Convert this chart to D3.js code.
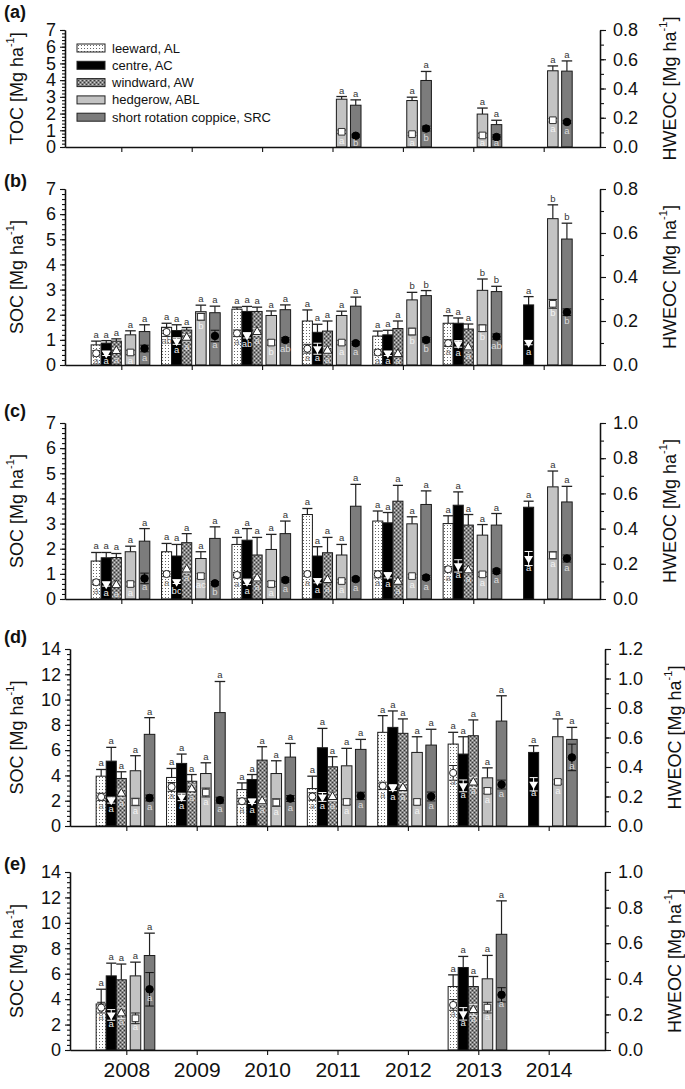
<!DOCTYPE html>
<html><head><meta charset="utf-8">
<script src="https://cdn.jsdelivr.net/npm/d3@7"></script>
<style>body{margin:0;background:#fff}svg{display:block}text{font-family:"Liberation Sans",Arial,sans-serif}</style>
</head><body><svg id="c" width="685" height="1089"></svg>
<script>
// ---------------- DATA ----------------
const years = [2008, 2009, 2010, 2011, 2012, 2013, 2014];
const seriesNames = ["leeward, AL", "centre, AC", "windward, AW", "hedgerow, ABL", "short rotation coppice, SRC"];
const panelLabels = ["(a)", "(b)", "(c)", "(d)", "(e)"];
const leftTitles = ["TOC", "SOC", "SOC", "SOC", "SOC"];
const rightTitle = "HWEOC";
const leftMax = [7, 7, 7, 14, 14];
const leftStep = [1, 1, 1, 2, 2];
const rightMax = [0.8, 0.8, 1.0, 1.2, 1.0];
const N = null;

// rows: AL, AC, AW, ABL, SRC ; columns: 2008..2014
const a_val = [[N,N,N,N,N,N,N],[N,N,N,N,N,N,N],[N,N,N,N,N,N,N],[N,N,N,2.86,2.78,1.97,4.56],[N,N,N,2.50,3.98,1.34,4.54]];
const a_se  = [[N,N,N,N,N,N,N],[N,N,N,N,N,N,N],[N,N,N,N,N,N,N],[N,N,N,0.16,0.20,0.36,0.29],[N,N,N,0.32,0.54,0.26,0.61]];
const a_hw  = [[N,N,N,N,N,N,N],[N,N,N,N,N,N,N],[N,N,N,N,N,N,N],[N,N,N,0.104,0.088,0.079,0.183],[N,N,N,0.077,0.126,0.068,0.171]];
const a_hwSe= [[N,N,N,N,N,N,N],[N,N,N,N,N,N,N],[N,N,N,N,N,N,N],[N,N,N,0.012,0.010,0.015,0.012],[N,N,N,0.010,0.017,0.015,0.010]];
const a_top = [[],[],[],[N,N,N,"a","a","a","a"],[N,N,N,"a","a","a","a"]];
const a_bot = [[],[],[],[N,N,N,"a","a","a","a"],[N,N,N,"b","b","a","a"]];

const b_val = [[0.80,1.50,2.22,1.75,1.15,1.66,N],[0.87,1.37,2.13,1.30,1.20,1.66,2.39],[0.95,1.39,2.13,1.35,1.45,1.43,N],[1.20,2.12,1.97,1.97,2.59,2.97,5.82],[1.33,2.08,2.20,2.34,2.76,2.92,5.01]];
const b_se  = [[0.15,0.16,0.08,0.44,0.20,0.30,N],[0.10,0.23,0.20,0.32,0.18,0.21,0.33],[0.09,0.10,0.17,0.40,0.30,0.20,N],[0.16,0.26,0.18,0.17,0.30,0.45,0.55],[0.27,0.26,0.19,0.36,0.20,0.21,0.63]];
const b_hw  = [[0.053,0.150,0.144,0.074,0.057,0.099,N],[0.053,0.109,0.135,0.074,0.053,0.096,0.102],[0.064,0.124,0.150,0.065,0.050,0.080,N],[0.057,0.219,0.102,0.102,0.152,0.167,0.278],[0.075,0.132,0.114,0.099,0.114,0.129,0.240]];
const b_hwSe= [[0.012,0.020,0.015,0.020,0.012,0.015,N],[0.010,0.015,0.012,0.025,0.010,0.015,0.010],[0.012,0.015,0.015,0.015,0.010,0.015,N],[0.010,0.015,0.012,0.010,0.015,0.015,0.020],[0.015,0.026,0.010,0.008,0.010,0.012,0.015]];
const b_top = [["a","a","a","a","a","a",N],["a","a","a","a","a","a","a"],["a","a","a","a","a","a",N],["a","a","a","a","b","b","b"],["a","a","a","a","b","b","b"]];
const b_bot = [["a","ab","a","a","a","a",N],["a","a","ab","a","a","a","a"],["a","a","a","a","a","a",N],["a","b","b","a","b","b","b"],["a","a","ab","a","b","ab","b"]];

const c_val = [[1.51,1.88,2.17,3.36,3.10,3.00,N],[1.64,1.71,2.34,1.71,3.03,3.73,3.65],[1.65,2.24,1.75,1.84,3.89,2.94,N],[1.88,1.61,1.97,1.75,2.99,2.54,4.46],[2.30,2.41,2.60,3.69,3.76,2.94,3.86]];
const c_se  = [[0.34,0.33,0.28,0.24,0.40,0.31,N],[0.21,0.46,0.46,0.37,0.41,0.53,0.24],[0.16,0.36,0.70,0.61,0.63,0.42,N],[0.22,0.27,0.60,0.42,0.28,0.42,0.63],[0.50,0.46,0.50,0.87,0.54,0.46,0.62]];
const c_hw  = [[0.095,0.142,0.136,0.142,0.140,0.169,N],[0.085,0.098,0.098,0.104,0.135,0.188,0.230],[0.079,0.168,0.117,0.108,0.098,0.163,N],[0.085,0.130,0.085,0.102,0.130,0.140,0.248],[0.117,0.089,0.108,0.113,0.122,0.158,0.230]];
const c_hwSe= [[0.012,0.015,0.015,0.012,0.020,0.015,N],[0.012,0.010,0.015,0.012,0.015,0.035,0.040],[0.012,0.020,0.015,0.012,0.012,0.015,N],[0.012,0.015,0.015,0.010,0.010,0.012,0.020],[0.030,0.010,0.012,0.010,0.012,0.012,0.020]];
const c_top = [["a","a","a","a","a","a",N],["a","a","a","a","a","a","a"],["a","a","a","a","a","a",N],["a","a","a","a","a","a","a"],["a","a","a","a","a","a","a"]];
const c_bot = [["a","a","a","a","a","a",N],["a","bc","a","a","a","a","a"],["a","a","a","a","a","a",N],["a","ac","a","a","a","a","a"],["a","b","a","a","a","a","a"]];

const d_val = [[3.94,3.84,2.88,2.96,7.41,6.48,N],[5.13,4.95,3.68,6.19,7.80,5.69,5.82],[3.76,3.54,5.21,4.68,7.33,7.14,N],[4.37,4.15,4.15,4.76,5.82,3.81,7.06],[7.25,8.97,5.45,6.06,6.40,8.30,6.85]];
const d_se  = [[0.53,0.71,0.53,0.98,1.32,0.93,N],[1.09,0.74,0.39,1.53,1.30,1.37,0.53],[0.53,0.53,1.06,0.80,1.14,1.25,N],[1.19,0.85,1.01,1.38,1.24,0.79,1.41],[1.32,2.46,1.08,0.79,1.25,2.00,0.95]];
const d_hw  = [[0.197,0.265,0.168,0.200,0.272,0.360,N],[0.175,0.197,0.168,0.197,0.260,0.272,0.283],[0.220,0.249,0.168,0.197,0.258,0.295,N],[0.163,0.227,0.159,0.163,0.163,0.238,0.299],[0.190,0.175,0.186,0.204,0.200,0.281,0.465]];
const d_hwSe= [[0.025,0.030,0.020,0.025,0.025,0.050,N],[0.020,0.025,0.015,0.030,0.020,0.040,0.045],[0.030,0.030,0.020,0.025,0.030,0.035,N],[0.025,0.030,0.025,0.020,0.020,0.020,0.015],[0.020,0.020,0.020,0.025,0.030,0.030,0.090]];
const d_top = [["a","a","a","a","a","a",N],["a","a","a","a","a","a","a"],["a","a","a","a","a","a",N],["a","a","a","a","a","a","a"],["a","a","a","a","a","a","a"]];
const d_bot = d_top;

const e_val = [[3.62,N,N,N,N,4.99,N],[5.83,N,N,N,N,6.49,N],[5.52,N,N,N,N,4.99,N],[5.83,N,N,N,N,5.60,N],[7.43,N,N,N,N,9.10,N]];
const e_se  = [[1.16,N,N,N,N,0.92,N],[1.00,N,N,N,N,0.87,N],[1.24,N,N,N,N,0.79,N],[1.08,N,N,N,N,1.84,N],[1.76,N,N,N,N,2.63,N]];
const e_hw  = [[0.238,N,N,N,N,0.253,N],[0.197,N,N,N,N,0.203,N],[0.206,N,N,N,N,0.225,N],[0.178,N,N,N,N,0.238,N],[0.341,N,N,N,N,0.310,N]];
const e_hwSe= [[0.030,N,N,N,N,0.030,N],[0.030,N,N,N,N,0.035,N],[0.030,N,N,N,N,0.030,N],[0.030,N,N,N,N,0.030,N],[0.094,N,N,N,N,0.040,N]];
const e_top = [["a",N,N,N,N,"a",N],["a",N,N,N,N,"a",N],["a",N,N,N,N,"a",N],["a",N,N,N,N,"a",N],["a",N,N,N,N,"a",N]];
const e_bot = e_top;

// ---------------- LAYOUT ----------------
const panels = [
  {top:30,  bottom:147, left:65, right:600, val:a_val, se:a_se, hw:a_hw, hwSe:a_hwSe, tl:a_top, bl:a_bot},
  {top:189, bottom:365, left:65, right:600, val:b_val, se:b_se, hw:b_hw, hwSe:b_hwSe, tl:b_top, bl:b_bot},
  {top:423, bottom:599, left:65, right:600, val:c_val, se:c_se, hw:c_hw, hwSe:c_hwSe, tl:c_top, bl:c_bot},
  {top:649, bottom:826, left:70, right:605, val:d_val, se:d_se, hw:d_hw, hwSe:d_hwSe, tl:d_top, bl:d_bot},
  {top:872, bottom:1050,left:70, right:605, val:e_val, se:e_se, hw:e_hw, hwSe:e_hwSe, tl:e_top, bl:e_bot}
];
const labelY = [18, 187, 417, 643, 870];
const offs = [-0.357, -0.214, -0.071, 0.13, 0.33];
const wids = [0.143, 0.143, 0.143, 0.15, 0.15];
const fills = ["url(#pAL)", "#000", "url(#pAW)", "#c3c3c3", "#7c7c7c"];
const capCol = ["#222", "#fff", "#eee", "#222", "#111"];
const botCol = ["#777", "#eee", "#ddd", "#f4f4f4", "#ddd"];

const svg = d3.select("#c");
const defs = svg.append("defs");
const pAL = defs.append("pattern").attr("id","pAL").attr("width",3).attr("height",3).attr("patternUnits","userSpaceOnUse");
pAL.append("rect").attr("width",3).attr("height",3).attr("fill","#fff");
pAL.append("rect").attr("width",1).attr("height",1).attr("fill","#666");
const pAW = defs.append("pattern").attr("id","pAW").attr("width",4).attr("height",4).attr("patternUnits","userSpaceOnUse");
pAW.append("rect").attr("width",4).attr("height",4).attr("fill","#858585");
[[0,0,"#d2d2d2"],[2,2,"#d2d2d2"],[2,0,"#383838"],[0,2,"#383838"]].forEach(p=>pAW.append("rect").attr("x",p[0]).attr("y",p[1]).attr("width",1).attr("height",1).attr("fill",p[2]));

const symTypes = [d3.symbolCircle, d3.symbolTriangle, d3.symbolTriangle, d3.symbolSquare, d3.symbolCircle];
const symSize = [40, 34, 34, 44, 44];
const symFill = ["#fff", "#fff", "#fff", "#fff", "#000"];
const symStroke = ["#222", "none", "#222", "#333", "#000"];
const symRot = [0, 180, 0, 0, 0];

panels.forEach((p, pi) => {
  const x = d3.scaleLinear().domain([2007.2, 2014.8]).range([p.left, p.right]);
  const y = d3.scaleLinear().domain([0, leftMax[pi]]).range([p.bottom, p.top]);
  const yR = d3.scaleLinear().domain([0, rightMax[pi]]).range([p.bottom, p.top]);
  const g = svg.append("g");

  // bars + errors
  for (let s = 0; s < 5; s++) {
    years.forEach((yr, i) => {
      const v = p.val[s][i];
      if (v == null) return;
      const cx = x(yr + offs[s]);
      const bw = x(2008 + wids[s]) - x(2008);
      const se = p.se[s][i];
      // error bar above
      const yTop = y(v + se);
      g.append("line").attr("x1",cx).attr("x2",cx).attr("y1",y(v)).attr("y2",yTop).attr("stroke","#222").attr("stroke-width",1.2);
      g.append("line").attr("x1",cx-bw/2).attr("x2",cx+bw/2).attr("y1",yTop).attr("y2",yTop).attr("stroke","#222").attr("stroke-width",1.3);
      g.append("rect").attr("x",cx-bw/2).attr("y",y(v)).attr("width",bw).attr("height",p.bottom-y(v))
        .attr("fill",fills[s]).attr("stroke","#1a1a1a").attr("stroke-width",1);
      const tl = p.tl[s] && p.tl[s][i];
      if (tl) g.append("text").attr("x",cx).attr("y",yTop-3).attr("text-anchor","middle").attr("font-size",9.5).attr("fill","#333").text(tl);
      // HWEOC
      const h = p.hw[s][i];
      if (h != null) {
        const he = p.hwSe[s][i];
        const y1 = yR(h - he), y2 = yR(h + he), hy = yR(h);
        g.append("line").attr("x1",cx).attr("x2",cx).attr("y1",y1).attr("y2",y2).attr("stroke",capCol[s]).attr("stroke-width",1);
        [y1,y2].forEach(yy => g.append("line").attr("x1",cx-bw/2+1).attr("x2",cx+bw/2-1).attr("y1",yy).attr("y2",yy).attr("stroke",capCol[s]).attr("stroke-width",1));
        g.append("path").attr("d", d3.symbol().type(symTypes[s]).size(symSize[s])())
          .attr("transform",`translate(${cx},${hy}) rotate(${symRot[s]})`)
          .attr("fill",symFill[s]).attr("stroke",symStroke[s]).attr("stroke-width",1);
        const bl = p.bl[s] && p.bl[s][i];
        if (bl) g.append("text").attr("x",cx).attr("y",Math.min(hy+12, p.bottom-1.5)).attr("text-anchor","middle")
          .attr("font-size",9.5).attr("fill",botCol[s]).text(bl);
      }
    });
  }

  // axes
  const lmaj = d3.range(0, leftMax[pi] + 1e-9, leftStep[pi]);
  const lmin = d3.range(0, leftMax[pi] + 1e-9, leftStep[pi] / 5);
  const rmaj = d3.range(0, rightMax[pi] + 1e-9, 0.2);
  const rmin = d3.range(0, rightMax[pi] + 1e-9, 0.1);
  const axL = g.append("g").attr("transform",`translate(${p.left},0)`)
    .call(d3.axisLeft(y).tickValues(lmaj).tickSize(5).tickSizeOuter(0).tickPadding(4).tickFormat(d3.format("d")));
  g.append("g").attr("transform",`translate(${p.left},0)`)
    .call(d3.axisLeft(y).tickValues(lmin).tickSize(3).tickSizeOuter(0).tickFormat(""));
  const axR = g.append("g").attr("transform",`translate(${p.right},0)`)
    .call(d3.axisRight(yR).tickValues(rmaj).tickSize(6).tickSizeOuter(0).tickPadding(7).tickFormat(d3.format(".1f")));
  g.append("g").attr("transform",`translate(${p.right},0)`)
    .call(d3.axisRight(yR).tickValues(rmin).tickSize(4).tickSizeOuter(0).tickFormat(""));
  const axX = g.append("g").attr("transform",`translate(0,${p.bottom})`)
    .call(d3.axisBottom(x).tickValues(years).tickSize(5).tickSizeOuter(0).tickPadding(7)
      .tickFormat(pi === 4 ? d3.format("d") : () => ""));
  g.selectAll(".domain").attr("stroke","#111").attr("stroke-width",1.3);
  g.selectAll(".tick line").attr("stroke","#111").attr("stroke-width",1.1);
  axL.selectAll("text").attr("font-size",18).attr("fill","#111").attr("font-family","Liberation Sans, Arial, sans-serif");
  axR.selectAll("text").attr("font-size",18).attr("fill","#111").attr("font-family","Liberation Sans, Arial, sans-serif");
  axX.selectAll("text").attr("font-size",21).attr("fill","#111").attr("font-family","Liberation Sans, Arial, sans-serif");

  // titles
  const cy = (p.top + p.bottom) / 2;
  const tL = g.append("text").attr("transform",`translate(17,${cy}) rotate(-90)`).attr("text-anchor","middle")
    .attr("dominant-baseline","central").attr("font-size",18).attr("fill","#111");
  tL.append("tspan").text(leftTitles[pi] + " [Mg ha");
  tL.append("tspan").attr("font-size",11).attr("dy",-7).text("-1");
  tL.append("tspan").attr("dy",7).text("]");
  const tR = g.append("text").attr("transform",`translate(${p.right + 70},${cy}) rotate(-90)`).attr("text-anchor","middle")
    .attr("dominant-baseline","central").attr("font-size",18).attr("fill","#111");
  tR.append("tspan").text(rightTitle + " [Mg ha");
  tR.append("tspan").attr("font-size",11).attr("dy",-7).text("-1");
  tR.append("tspan").attr("dy",7).text("]");

  g.append("text").attr("x",4).attr("y",labelY[pi]).attr("font-size",18).attr("font-weight","bold").attr("fill","#111").text(panelLabels[pi]);
});

// legend
const lg = svg.append("g");
seriesNames.forEach((n, i) => {
  const yy = 48 + i * 17.3;
  lg.append("rect").attr("x",77).attr("y",yy-4).attr("width",28).attr("height",8).attr("fill",fills[i]).attr("stroke","#222").attr("stroke-width",1);
  lg.append("text").attr("x",112).attr("y",yy).attr("dominant-baseline","central").attr("font-size",13).attr("fill","#111").text(n);
});
</script></body></html>
